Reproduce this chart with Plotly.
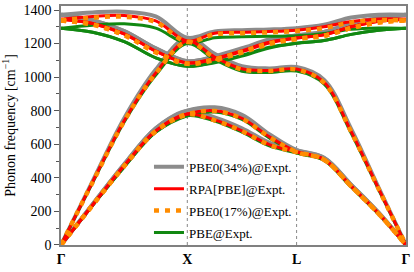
import plotly.graph_objects as go

# k-path positions (Γ-X-L-Γ, fcc, units 2π/a)
k_points = [0, 0.25, 0.5, 0.75, 1.0, 1.2165, 1.433, 1.6495, 1.866, 2.0825, 2.299, 2.5155, 2.732]
tick_pos = [0, 1.0, 1.866, 2.732]
tick_labels = ["Γ", "X", "L", "Γ"]
y_ticks = [0, 200, 400, 600, 800, 1000, 1200, 1400]

# bands (cm^-1): TA1, TA2, LA, TO1, TO2, LO
pbe0_34 = [
    [0, 242, 480, 695, 800, 820, 775, 660, 565, 520, 358, 192, 0],
    [0, 242, 480, 695, 800, 760, 695, 610, 565, 520, 358, 192, 0],
    [0, 380, 755, 1045, 1235, 1140, 1065, 1052, 1060, 985, 690, 342, 0],
    [1372, 1340, 1275, 1172, 1095, 1125, 1172, 1224, 1249, 1270, 1318, 1352, 1372],
    [1372, 1340, 1275, 1172, 1095, 1120, 1165, 1218, 1249, 1270, 1318, 1352, 1372],
    [1372, 1386, 1390, 1362, 1235, 1272, 1280, 1284, 1292, 1312, 1355, 1372, 1372],
]
rpa_pbe = [
    [0, 238, 473, 680, 780, 800, 755, 645, 555, 510, 350, 187, 0],
    [0, 238, 473, 680, 780, 745, 680, 598, 555, 510, 350, 187, 0],
    [0, 376, 740, 1025, 1215, 1120, 1050, 1040, 1048, 970, 675, 335, 0],
    [1345, 1320, 1258, 1155, 1085, 1112, 1158, 1208, 1233, 1252, 1300, 1333, 1345],
    [1345, 1320, 1258, 1155, 1085, 1107, 1152, 1203, 1233, 1252, 1300, 1333, 1345],
    [1345, 1362, 1368, 1335, 1215, 1262, 1268, 1272, 1280, 1300, 1332, 1347, 1345],
]
pbe0_17 = [
    [0, 237, 470, 678, 778, 798, 752, 643, 553, 508, 349, 186, 0],
    [0, 237, 470, 678, 778, 742, 678, 596, 553, 508, 349, 186, 0],
    [0, 374, 738, 1022, 1210, 1116, 1046, 1037, 1045, 967, 673, 334, 0],
    [1338, 1313, 1250, 1148, 1080, 1107, 1152, 1202, 1228, 1246, 1293, 1326, 1338],
    [1338, 1313, 1250, 1148, 1080, 1102, 1147, 1197, 1228, 1246, 1293, 1326, 1338],
    [1338, 1355, 1360, 1328, 1210, 1256, 1262, 1267, 1275, 1292, 1326, 1340, 1338],
]
pbe = [
    [0, 236, 465, 672, 770, 792, 748, 638, 548, 505, 345, 184, 0],
    [0, 236, 465, 672, 770, 738, 672, 590, 548, 505, 345, 184, 0],
    [0, 372, 733, 1012, 1200, 1105, 1035, 1028, 1036, 960, 665, 330, 0],
    [1292, 1268, 1212, 1115, 1065, 1090, 1130, 1178, 1202, 1218, 1255, 1280, 1292],
    [1292, 1268, 1212, 1115, 1065, 1086, 1126, 1174, 1202, 1218, 1255, 1280, 1292],
    [1292, 1310, 1318, 1292, 1200, 1235, 1240, 1243, 1246, 1260, 1285, 1293, 1292],
]

names = ["PBE0(34%)@Expt.", "RPA[PBE]@Expt.", "PBE0(17%)@Expt.", "PBE@Expt."]
colors = ["#8c8c8c", "#ff0000", "#ff8c00", "#118811"]
widths = [4, 3, 4.5, 3]
dashes = ["solid", "solid", "5px,6px", "solid"]
ranks = [1, 2, 3, 4]
datasets = [pbe0_34, rpa_pbe, pbe0_17, pbe]
draw_order = [0, 3, 1, 2]

fig = go.Figure()
for i in draw_order:
    xs, ys = [], []
    for band in datasets[i]:
        xs += k_points + [None]
        ys += band + [None]
    fig.add_trace(go.Scatter(
        x=xs, y=ys, mode="lines", name=names[i], legendrank=ranks[i],
        legendgroup=names[i],
        line=dict(color=colors[i], width=widths[i], dash=dashes[i], shape="spline"),
        connectgaps=False,
    ))

for xp in tick_pos[1:3]:
    fig.add_shape(type="line", x0=xp, x1=xp, y0=0, y1=1, xref="x", yref="paper",
                  line=dict(color="#888888", width=1, dash="dot"), layer="below")

serif = "Liberation Serif"
fig.update_layout(
    width=414, height=272,
    margin=dict(l=61, r=8, t=6, b=27),
    plot_bgcolor="white", paper_bgcolor="white",
    font=dict(family=serif, size=13, color="black"),
    showlegend=True,
    legend=dict(x=0.255, y=0.39, xanchor="left", yanchor="top",
                bgcolor="rgba(0,0,0,0)", borderwidth=0,
                font=dict(family=serif, size=13), tracegroupgap=2),
    xaxis=dict(range=[-0.0008, 2.7328], tickvals=tick_pos, ticktext=tick_labels,
               tickfont=dict(family=serif, size=14, weight="bold"),
               showgrid=False, zeroline=False, ticks="", automargin=False,
               showline=True, linecolor="#808080", linewidth=1.5, mirror=True),
    yaxis=dict(range=[-0.5, 1424], tickvals=y_ticks, ticks="outside", ticklen=5,
               tickcolor="#555555", automargin=False,
               tickfont=dict(family=serif, size=14),
               minor=dict(dtick=100, ticks="outside", ticklen=3, tickcolor="#555555"),
               title=dict(text="Phonon frequency [cm<sup>−1</sup>]", standoff=6,
                          font=dict(family=serif, size=14)),
               showgrid=False, zeroline=False,
               showline=True, linecolor="#808080", linewidth=1.5, mirror=True),
)

fig.write_html("out.html", config={"displayModeBar": False},
               post_script="document.body.style.margin='0';document.body.style.padding='0';")
